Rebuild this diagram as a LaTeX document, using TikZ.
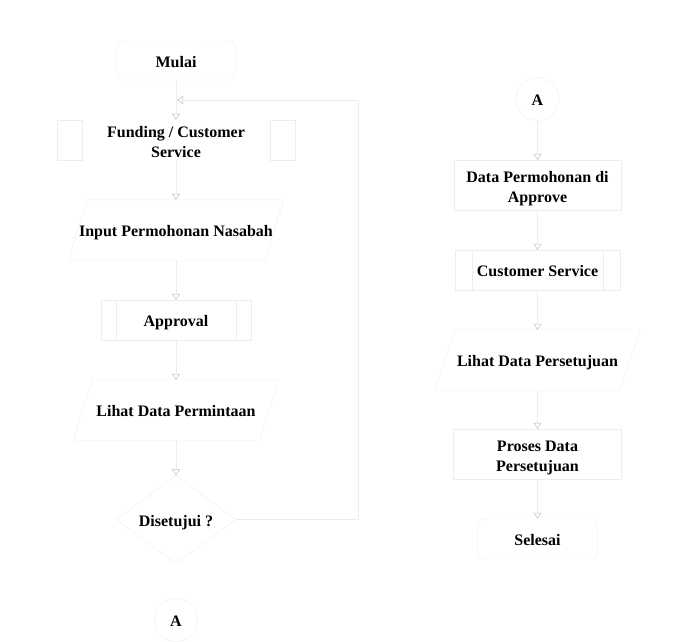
\documentclass[tikz,border=0pt]{standalone}
\usepackage{fontspec}
\setmainfont{Liberation Serif}
\usetikzlibrary{arrows.meta,shapes.geometric}
\definecolor{edgegray}{HTML}{EDEDED}
\definecolor{tipgray}{HTML}{BDBDBD}
\begin{document}
\begin{tikzpicture}[x=1pt,y=-1pt,
  lbl/.style={font=\fontsize{16}{20}\selectfont\bfseries, align=center, inner sep=0pt,
    text height=13.5pt, text depth=0pt},
  twoline/.style={text height=35pt, text depth=0pt},
  terminal/.style={lbl, draw=edgegray, rounded corners=6pt, minimum width=119pt, minimum height=39pt},
  procbox/.style={lbl, twoline, draw=edgegray, minimum width=167pt, minimum height=50pt},
  frame/.style={lbl, minimum height=40pt},
  iobox/.style={lbl, minimum height=60pt},
  decision/.style={lbl, draw=edgegray, diamond, minimum width=120pt, minimum height=79pt},
  connector/.style={lbl, draw=edgegray, circle, minimum size=43pt},
  shapeline/.style={draw=edgegray},
  flow/.style={draw=edgegray, line width=0.8pt,
    -{Triangle[open, length=6pt, width=8pt, color=tipgray, line width=0.5pt]}}]
\useasboundingbox (0,0) rectangle (687,641);

% left column
\node[terminal] (mulai) at (176,60.5) {Mulai};
\node[frame, twoline, minimum width=238pt] (fund) at (176,140) {Funding / Customer\\Service};
\draw[shapeline] (fund.north west) rectangle ([xshift=25pt]fund.south west);
\draw[shapeline] ([xshift=-25pt]fund.north east) rectangle (fund.south east);
\node[iobox, minimum width=196pt] (input) at (176,230) {Input Permohonan Nasabah};
\draw[shapeline] ([xshift=9.5pt]input.north west) -- ([xshift=9.5pt]input.north east)
  -- ([xshift=-9.5pt]input.south east) -- ([xshift=-9.5pt]input.south west) -- cycle;
\node[frame, draw=edgegray, minimum width=150pt] (appr) at (176,320) {Approval};
\draw[shapeline] ([xshift=15pt]appr.north west) -- ([xshift=15pt]appr.south west);
\draw[shapeline] ([xshift=-15pt]appr.north east) -- ([xshift=-15pt]appr.south east);
\node[iobox, minimum width=186pt] (lihat1) at (176,410) {Lihat Data Permintaan};
\draw[shapeline] ([xshift=9.5pt]lihat1.north west) -- ([xshift=9.5pt]lihat1.north east)
  -- ([xshift=-9.5pt]lihat1.south east) -- ([xshift=-9.5pt]lihat1.south west) -- cycle;
\node[decision] (dis) at (176,519.5) {Disetujui ?};
\node[connector] (a1) at (176,620) {A};
\coordinate (loopend) at (177,100);

\draw[flow] (mulai) -- (fund);
\draw[flow] (fund) -- (input);
\draw[flow] (input) -- (appr);
\draw[flow] (appr) -- (lihat1);
\draw[flow] (lihat1) -- (dis);
\draw[flow] (dis.east) -- ++(122,0) |- (loopend);

% right column
\node[connector] (a2) at (537.5,99) {A};
\node[procbox] (data) at (537.5,185) {Data Permohonan di\\Approve};
\node[frame, draw=edgegray, minimum width=165pt] (cs) at (537.5,270) {Customer Service};
\draw[shapeline] ([xshift=17pt]cs.north west) -- ([xshift=17pt]cs.south west);
\draw[shapeline] ([xshift=-17pt]cs.north east) -- ([xshift=-17pt]cs.south east);
\node[iobox, minimum width=185pt] (lihat2) at (537.5,360) {Lihat Data Persetujuan};
\draw[shapeline] ([xshift=10.5pt]lihat2.north west) -- ([xshift=10.5pt]lihat2.north east)
  -- ([xshift=-10.5pt]lihat2.south east) -- ([xshift=-10.5pt]lihat2.south west) -- cycle;
\node[procbox, minimum width=168pt] (proses) at (537.5,454) {Proses Data\\Persetujuan};
\node[terminal, minimum width=120pt, minimum height=40pt] (selesai) at (537.5,539) {Selesai};

\draw[flow] (a2) -- (data);
\draw[flow] (data) -- (cs);
\draw[flow] (cs) -- (lihat2);
\draw[flow] (lihat2) -- (proses);
\draw[flow] (proses) -- (selesai);
\end{tikzpicture}
\end{document}
